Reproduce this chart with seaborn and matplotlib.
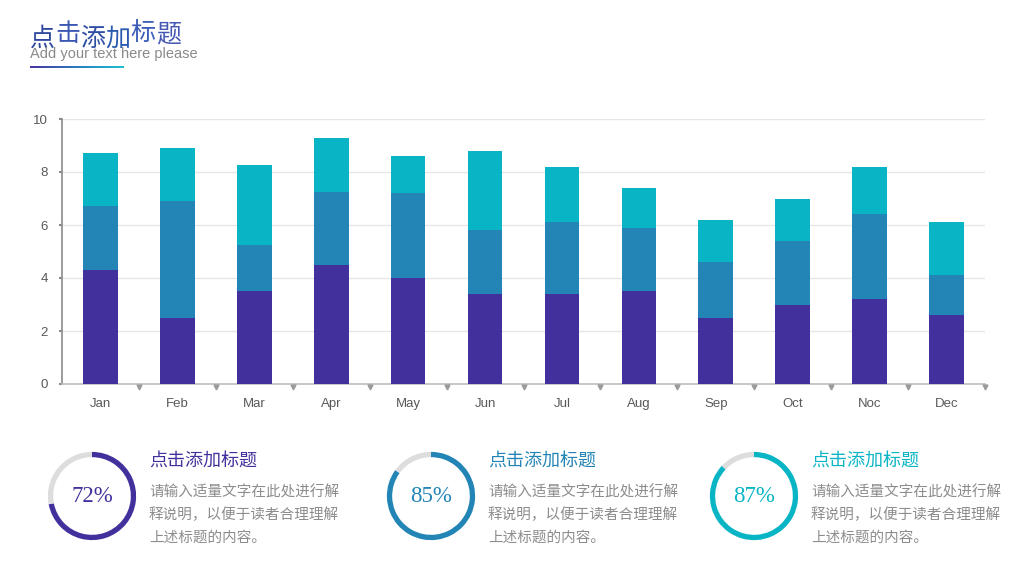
import numpy as np
import pandas as pd
import seaborn as sns
import matplotlib.pyplot as plt
from matplotlib.colors import LinearSegmentedColormap
from matplotlib.transforms import offset_copy

months = ["Jan", "Feb", "Mar", "Apr", "May", "Jun", "Jul", "Aug", "Sep", "Oct", "Noc", "Dec"]
series1 = [4.3, 2.5, 3.5, 4.5, 4.0, 3.4, 3.4, 3.5, 2.5, 3.0, 3.2, 2.6]
series2 = [2.4, 4.4, 1.75, 2.75, 3.2, 2.4, 2.7, 2.4, 2.1, 2.4, 3.2, 1.5]
series3 = [2.0, 2.0, 3.0, 2.05, 1.4, 3.0, 2.1, 1.5, 1.6, 1.6, 1.8, 2.0]

percents = [72, 85, 87]
card_title = "点击添加标题"
card_lines = ["请输入适量文字在此处进行解", "释说明，以便于读者合理理解", "上述标题的内容。"]

C1, C2, C3 = "#42319C", "#2385B5", "#09B5C5"
W, H = 1024, 576

sns.set_theme(style="white")
plt.rcParams["font.family"] = ["Liberation Sans", "Noto Sans CJK SC", "DejaVu Sans"]
CJK = ["Noto Sans CJK SC", "DejaVu Sans"]

df = pd.DataFrame({"month": months, "s1": series1, "s2": series2, "s3": series3})
df["c2"] = df["s1"] + df["s2"]
df["c3"] = df["c2"] + df["s3"]

fig = plt.figure(figsize=(W / 100, H / 100), dpi=100)
ax = fig.add_axes([62 / W, 1 - 384 / H, 923 / W, 265 / H])

# stacked bars drawn back to front as cumulative totals
for col, c in [("c3", C3), ("c2", C2), ("s1", C1)]:
    sns.barplot(data=df, x="month", y=col, color=c, width=0.45, saturation=1,
                errorbar=None, ax=ax, zorder=3, edgecolor="none", linewidth=0)

ax.set_xlim(-0.5, len(months) - 0.5)
ax.set_ylim(0, 10)
ax.set_yticks(range(0, 11, 2))
ax.set_xlabel("")
ax.set_ylabel("")
ax.yaxis.grid(True, color="#E6E6E6", lw=1)
ax.set_axisbelow(True)
for s in ["top", "right"]:
    ax.spines[s].set_visible(False)
ax.spines["left"].set_color("#8A8A8A")
ax.spines["left"].set_linewidth(1.2)
ax.spines["bottom"].set_color("#BDBDBD")
ax.spines["bottom"].set_linewidth(1.2)
ax.tick_params(axis="y", left=True, length=2, width=1.5, color="#8A8A8A",
               pad=8, labelsize=9.5, labelcolor="#595959")
ax.tick_params(axis="x", bottom=False, pad=4, labelsize=9.5, labelcolor="#595959")

# small triangle markers under the category boundaries
bounds = np.arange(1, len(months) + 1) - 0.5
ax.plot(bounds, np.zeros_like(bounds), "v", ms=3.5, color="#9A9A9A", clip_on=False,
        transform=offset_copy(ax.transData, fig, y=-3, units="dots"), zorder=4)

# header
title_colors = ["#2F479C", "#3A57B4", "#2E4EA2", "#2B5BAF", "#3C5EB8", "#4658B3"]
title_low = [True, False, True, True, False, False]
for i, ch in enumerate(card_title):
    dy = 39 if title_low[i] else 34
    fig.text((30 + 25.2 * i) / W, 1 - dy / H, ch, fontsize=18, color=title_colors[i],
             family=CJK, fontweight="medium" if title_low[i] else "normal", va="center")
fig.text(30 / W, 1 - 54 / H, "Add your text here please", fontsize=10.5, color="#8A8A8A",
         va="center")
grad = fig.add_axes([30 / W, 1 - 68.5 / H, 94 / W, 3 / H])
grad.imshow(np.linspace(0, 1, 256)[None, :], aspect="auto",
            cmap=LinearSegmentedColormap.from_list("g", ["#4B34A0", "#2A7CC0", "#1CC2D2"]))
grad.axis("off")

# progress rings with text
centers = [92, 431, 754]
text_x = [149, 488, 811]
for cx, tx, p, c in zip(centers, text_x, percents, [C1, C2, C3]):
    r = 45
    pa = fig.add_axes([(cx - r) / W, 1 - (496 + r) / H, 2 * r / W, 2 * r / H])
    pa.pie([p, 100 - p], colors=[c, "#DDDDDD"], startangle=90, counterclock=False,
           radius=1, wedgeprops=dict(width=0.12, edgecolor="none"))
    pa.set_xlim(-1.02, 1.02)
    pa.set_ylim(-1.02, 1.02)
    pa.set_aspect("equal")
    pa.axis("off")
    pa.text(0, -0.02, f"{p}%", ha="center", va="center", fontsize=16.5, color=c,
            family="Liberation Serif")
    fig.text(tx / W, 1 - 461 / H, card_title, fontsize=13, color=c, family=CJK, va="center")
    for j, line in enumerate(card_lines):
        fig.text(tx / W, 1 - (492 + 23 * j) / H, line, fontsize=10.5, color="#8C8C8C",
                 family=CJK, va="center")

fig.savefig("out.png", dpi=100)
